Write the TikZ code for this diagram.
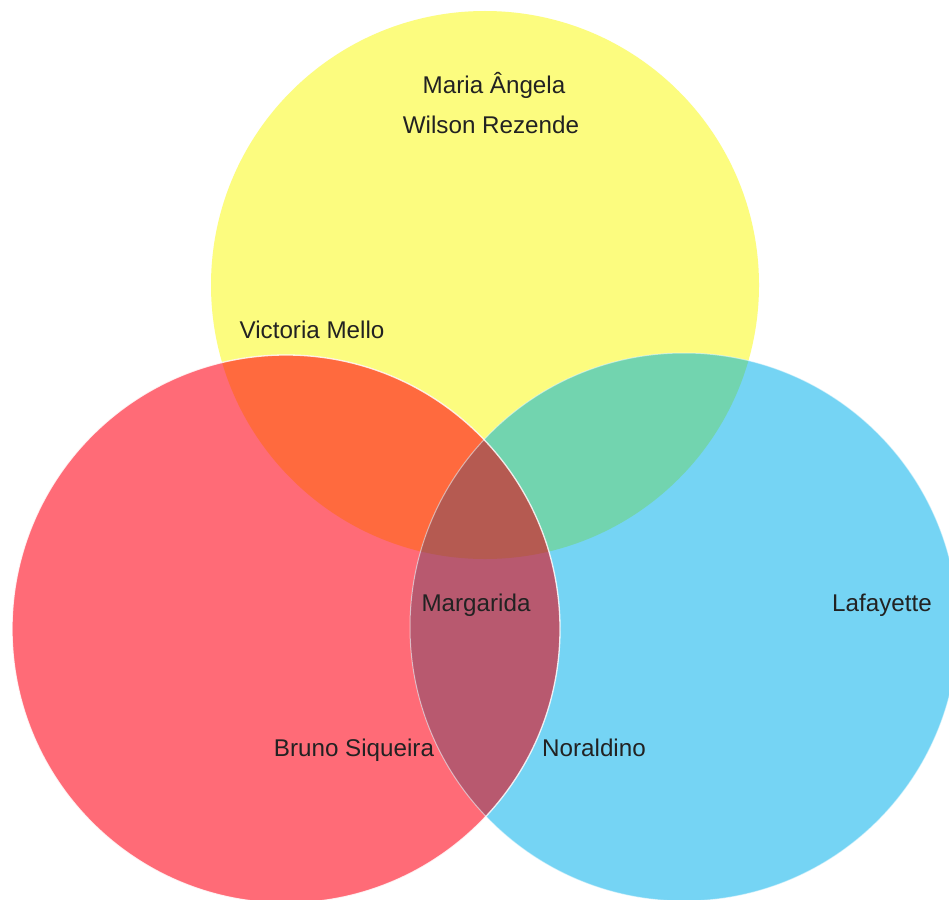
\documentclass[tikz,border=0pt]{standalone}
\usepackage{fontspec}
\setmainfont{Liberation Sans}
\definecolor{yellowc}{HTML}{FCFC7F}
\definecolor{redc}{HTML}{FF6B77}
\definecolor{bluec}{HTML}{75D4F4}
\definecolor{orangec}{HTML}{FF6A3E}
\definecolor{greenc}{HTML}{72D4AF}
\definecolor{purplec}{HTML}{B8596F}
\definecolor{triplec}{HTML}{B55A51}
\definecolor{txt}{HTML}{222222}
\tikzset{lbl/.style={text=txt,font=\fontsize{24.2}{28}\selectfont,inner sep=0pt}}
\begin{document}
\begin{tikzpicture}[x=1pt,y=-1pt]
\useasboundingbox (0,0) rectangle (949,899);
\fill[white] (0,0) rectangle (949,899);
\coordinate (Y) at (485,285);
\coordinate (R) at (286,629);
\coordinate (B) at (684,627);
\def\rr{274pt}
\fill[yellowc] (Y) circle[radius=\rr];
\fill[redc] (R) circle[radius=\rr];
\fill[bluec] (B) circle[radius=\rr];
\begin{scope}
  \clip (Y) circle[radius=\rr];
  \fill[orangec] (R) circle[radius=\rr];
  \fill[greenc] (B) circle[radius=\rr];
\end{scope}
\begin{scope}
  \clip (R) circle[radius=\rr];
  \fill[purplec] (B) circle[radius=\rr];
  \clip (Y) circle[radius=\rr];
  \fill[triplec] (B) circle[radius=\rr];
\end{scope}
\draw[white,opacity=0.5,line width=1pt] (B) circle[radius=\rr];
\draw[white,opacity=0.85,line width=1.3pt] (R) circle[radius=\rr];
\node[lbl] (maria) at (494,85) {Maria Ângela};
\node[lbl] (wilson) at (491,125) {Wilson Rezende};
\node[lbl] (victoria) at (312,330) {Victoria Mello};
\node[lbl] (margarida) at (476,605) {Margarida};
\node[lbl] (lafayette) at (882,605) {Lafayette};
\node[lbl] (bruno) at (354,750) {Bruno Siqueira};
\node[lbl] (noraldino) at (594,748) {Noraldino};
\end{tikzpicture}
\end{document}
